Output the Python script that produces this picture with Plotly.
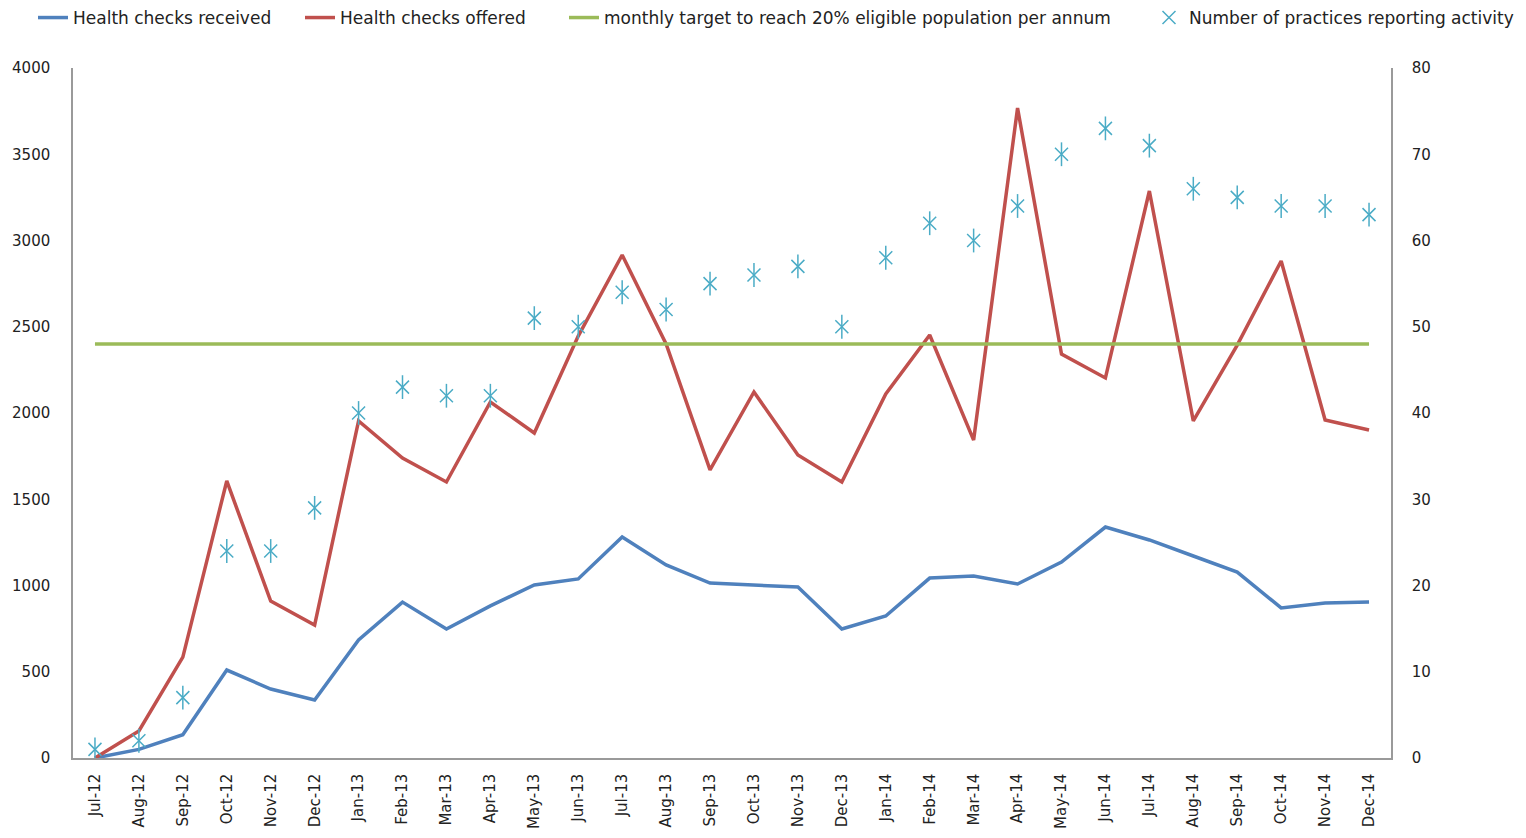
import plotly.graph_objects as go

months = ["Jul-12","Aug-12","Sep-12","Oct-12","Nov-12","Dec-12",
          "Jan-13","Feb-13","Mar-13","Apr-13","May-13","Jun-13",
          "Jul-13","Aug-13","Sep-13","Oct-13","Nov-13","Dec-13",
          "Jan-14","Feb-14","Mar-14","Apr-14","May-14","Jun-14",
          "Jul-14","Aug-14","Sep-14","Oct-14","Nov-14","Dec-14"]

received = [0, 50, 135, 510, 400, 336,
            684, 904, 748, 882, 1003, 1038,
            1281, 1119, 1014, 1003, 991, 748,
            823, 1043, 1055, 1009, 1136, 1339,
            1264, 1171, 1078, 870, 899, 904]

offered = [0, 157, 585, 1606, 910, 771,
           1954, 1739, 1600, 2064, 1884, 2446,
           2916, 2400, 1670, 2122, 1757, 1600,
           2110, 2452, 1843, 3768, 2342, 2203,
           3287, 1954, 2394, 2881, 1959, 1901]

target = [2400] * len(months)

practices = [1, 2, 7, 24, 24, 29,
             40, 43, 42, 42, 51, 50,
             54, 52, 55, 56, 57, 50,
             58, 62, 60, 64, 70, 73,
             71, 66, 65, 64, 64, 63]

FONT = "DejaVu Sans, Liberation Sans, sans-serif"
STAR = "#4BACC6"
FIG_W, FIG_H = 1518, 830
L, R, T, B = 65, 135, 60, 80
W = FIG_W - L - R
H = FIG_H - T - B

def px2paper(px):
    return (px - 73) / W

fig = go.Figure()
fig.add_trace(go.Scatter(x=months, y=received, mode="lines", name="Health checks received",
                         line=dict(color="#4F81BD", width=3.5), legend="legend"))
fig.add_trace(go.Scatter(x=months, y=offered, mode="lines", name="Health checks offered",
                         line=dict(color="#C0504D", width=3.5), legend="legend2"))
fig.add_trace(go.Scatter(x=months, y=target, mode="lines",
                         name="monthly target to reach 20% eligible population per annum",
                         line=dict(color="#9BBB59", width=3.5), legend="legend3"))
fig.add_trace(go.Scatter(x=months, y=practices, mode="markers", yaxis="y2",
                         name="Number of practices reporting activity", showlegend=False,
                         legendgroup="prac",
                         marker=dict(symbol="line-ns-open", size=17, color=STAR,
                                     line=dict(color=STAR, width=1.5))))
fig.add_trace(go.Scatter(x=months, y=practices, mode="markers", yaxis="y2",
                         name="Number of practices reporting activity", legendgroup="prac",
                         marker=dict(symbol="x-thin-open", size=13, color=STAR,
                                     line=dict(color=STAR, width=1.5)),
                         legend="legend4"))

def leg(xpx):
    return dict(x=px2paper(xpx), y=1.0 + 68 / H, xanchor="left", yanchor="top",
                orientation="h", bgcolor="rgba(0,0,0,0)",
                font=dict(family=FONT, size=17, color="#222222"),
                itemwidth=30, tracegroupgap=0)

fig.update_layout(
    width=FIG_W, height=FIG_H,
    margin=dict(l=L, r=R, t=T, b=B, autoexpand=False),
    paper_bgcolor="white", plot_bgcolor="white",
    showlegend=True,
    legend=leg(33), legend2=leg(300), legend3=leg(564), legend4=leg(1149),
    xaxis=dict(type="category", range=[-0.5, len(months) - 0.5], automargin=False,
               showgrid=False, showline=True, linecolor="#9a9a9a", linewidth=1.5,
               ticks="", tickangle=-90, tickfont=dict(family=FONT, size=15, color="#222222"),
               ticklabelstandoff=8, zeroline=False),
    yaxis=dict(range=[0, 4000], dtick=500, showgrid=False, showline=True, automargin=False,
               linecolor="#9a9a9a", linewidth=1.5, ticks="", zeroline=False,
               tickfont=dict(family=FONT, size=15, color="#222222"), ticklabelstandoff=18),
    yaxis2=dict(range=[0, 80], dtick=10, overlaying="y", side="right", showgrid=False,
                automargin=False,
                showline=True, linecolor="#9a9a9a", linewidth=1.5, ticks="", zeroline=False,
                tickfont=dict(family=FONT, size=15, color="#222222"), ticklabelstandoff=16),
)

fig.write_html("out.html")
